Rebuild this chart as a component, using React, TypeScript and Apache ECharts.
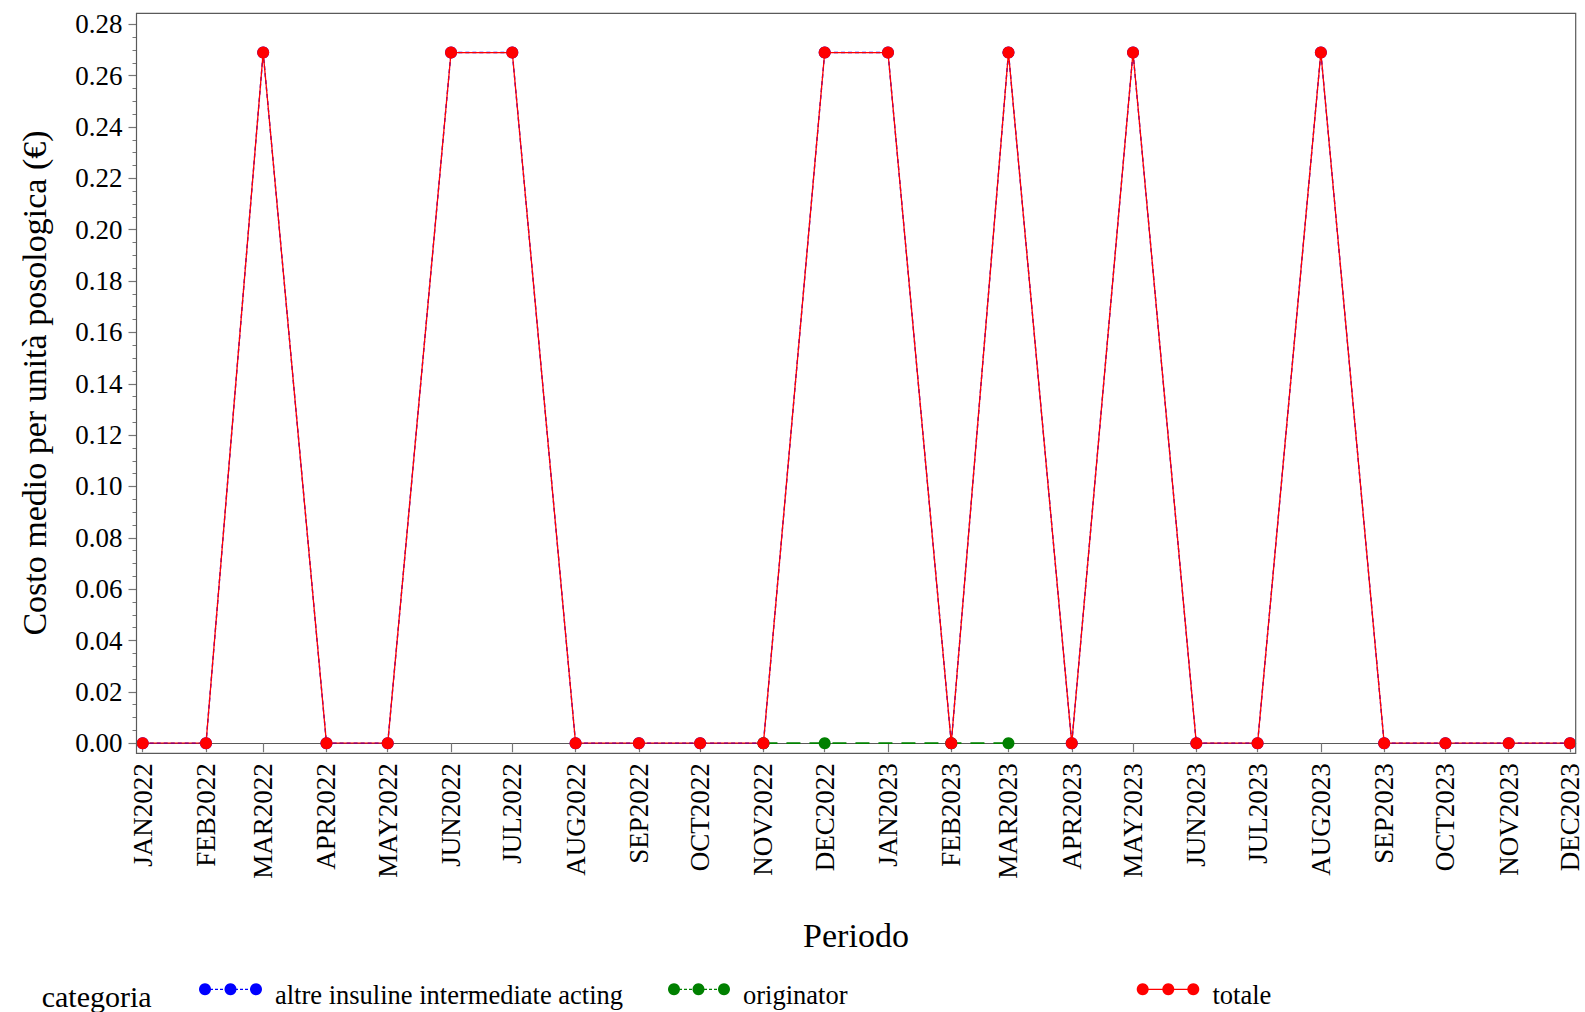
import React, { useEffect, useRef } from "react";
import * as echarts from "echarts";

const FONT = '"Liberation Serif", "Times New Roman", serif';
const DAY = 86400000;

// monthly periods (year, month index)
const periods: [number, number][] = [
  [2022, 0], [2022, 1], [2022, 2], [2022, 3], [2022, 4], [2022, 5],
  [2022, 6], [2022, 7], [2022, 8], [2022, 9], [2022, 10], [2022, 11],
  [2023, 0], [2023, 1], [2023, 2], [2023, 3], [2023, 4], [2023, 5],
  [2023, 6], [2023, 7], [2023, 8], [2023, 9], [2023, 10], [2023, 11],
];
const monthNames = ["JAN", "FEB", "MAR", "APR", "MAY", "JUN", "JUL", "AUG", "SEP", "OCT", "NOV", "DEC"];

const totale = [
  0, 0, 0.269, 0, 0, 0.269, 0.269, 0, 0, 0, 0, 0.269,
  0.269, 0, 0.269, 0, 0.269, 0, 0, 0.269, 0, 0, 0, 0,
];
const altreInsuline = [
  0, 0, 0.269, 0, 0, 0.269, 0.269, 0, 0, 0, 0, 0.269,
  0.269, 0, 0.269, 0, 0.269, 0, 0, 0.269, 0, 0, 0, 0,
];
const originatorPeriods: [number, number][] = [[2022, 10], [2022, 11], [2023, 1], [2023, 2]];
const originator = [0, 0, 0, 0];

const yTicks = { min: 0, max: 0.28, interval: 0.02 };

const ts = (p: [number, number]) => new Date(p[0], p[1], 1).getTime();

export default function App() {
  const ref = useRef<HTMLDivElement>(null);
  useEffect(() => {
    if (!ref.current) return;
    const chart = echarts.init(ref.current, undefined, { renderer: "svg" });

    const gridLeft = 136.5;
    const gridRight = 9.3;
    const gridTop = 24.3;
    const gridBottom = 268.8;
    const frame = { x: 136.5, y: 13.3, w: 1575.7 - 136.5, h: 753.3 - 13.3 };

    const legendItems = [
      { name: "altre insuline intermediate acting", color: "#0000FF", dash: [3, 2], dots: [205, 230.5, 256], tx: 275 },
      { name: "originator", color: "#008000", dash: [3, 2], dots: [674, 698.5, 724], tx: 743 },
      { name: "totale", color: "#FF0000", dash: null as any, dots: [1142.7, 1168.3, 1193.3], tx: 1212.5 },
    ];
    const legendY = 989.3;
    const graphics: any[] = [
      {
        type: "rect",
        shape: { x: frame.x, y: frame.y, width: frame.w, height: frame.h },
        style: { fill: "none", stroke: "#5a5a5a", lineWidth: 1.2 },
        silent: true,
        z: 10,
      },
      {
        type: "text",
        x: 34,
        y: 383,
        rotation: Math.PI / 2,
        style: {
          text: "Costo medio per unità posologica (€)",
          font: `34px ${FONT}`,
          fill: "#000",
          align: "center",
          verticalAlign: "middle",
        },
      },
      {
        type: "text",
        x: 856,
        y: 935,
        style: { text: "Periodo", font: `34px ${FONT}`, fill: "#000", align: "center", verticalAlign: "middle" },
      },
      {
        type: "text",
        x: 41.7,
        y: 996,
        style: { text: "categoria", font: `30px ${FONT}`, fill: "#000", align: "left", verticalAlign: "middle" },
      },
    ];
    legendItems.forEach((it) => {
      graphics.push({
        type: "line",
        shape: { x1: it.dots[0], y1: legendY, x2: it.dots[2], y2: legendY },
        style: { stroke: it.color, lineWidth: 1.2, lineDash: it.dash || undefined },
      });
      it.dots.forEach((dx) => {
        graphics.push({ type: "circle", shape: { cx: dx, cy: legendY, r: 6 }, style: { fill: it.color } });
      });
      graphics.push({
        type: "text",
        x: it.tx,
        y: 995,
        style: { text: it.name, font: `26.5px ${FONT}`, fill: "#000", align: "left", verticalAlign: "middle" },
      });
    });

    const t0 = ts(periods[0]);
    const t1 = ts(periods[periods.length - 1]);

    chart.setOption({
      animation: false,
      backgroundColor: "#fff",
      grid: { left: gridLeft, right: gridRight, top: gridTop, bottom: gridBottom, containLabel: false },
      xAxis: {
        type: "time",
        min: t0 - 3.04 * DAY,
        max: t1 + 2.8 * DAY,
        splitNumber: 24,
        minInterval: 28 * DAY,
        maxInterval: 31 * DAY,
        offset: 10.1,
        axisLine: { show: true, lineStyle: { color: "#5a5a5a", width: 1.2 } },
        axisTick: { show: true, length: 9, lineStyle: { color: "#777", width: 1.2 } },
        splitLine: { show: false },
        axisLabel: {
          rotate: 90,
          fontFamily: FONT,
          fontSize: 27,
          color: "#000",
          margin: 10,
          hideOverlap: false,
          showMinLabel: false,
          showMaxLabel: false,
          formatter: (v: number) => {
            const d = new Date(v);
            if (d.getDate() !== 1 || d.getHours() !== 0) return "";
            return monthNames[d.getMonth()] + d.getFullYear();
          },
        },
      },
      yAxis: {
        type: "value",
        min: yTicks.min,
        max: yTicks.max,
        interval: yTicks.interval,
        axisLine: { show: false },
        axisTick: { show: true, length: 8, lineStyle: { color: "#777", width: 1.2 } },
        minorTick: { show: true, splitNumber: 4, length: 4, lineStyle: { color: "#777", width: 1 } },
        splitLine: { show: false },
        axisLabel: {
          fontFamily: FONT,
          fontSize: 27,
          color: "#000",
          margin: 14,
          formatter: (v: number) => v.toFixed(2),
        },
      },
      series: [
        {
          name: "altre insuline intermediate acting",
          type: "line",
          data: periods.map((p, i) => [ts(p), altreInsuline[i]]),
          symbol: "circle",
          symbolSize: 12,
          itemStyle: { color: "#0000FF" },
          lineStyle: { color: "#0000FF", width: 1.4, type: [4, 3] },
          z: 2,
        },
        {
          name: "originator",
          type: "line",
          data: originatorPeriods.map((p, i) => [ts(p), originator[i]]),
          symbol: "circle",
          symbolSize: 12,
          itemStyle: { color: "#008000" },
          lineStyle: { color: "#008000", width: 1.8, type: [14, 9] },
          z: 3,
        },
        {
          name: "totale",
          type: "line",
          data: periods.map((p, i) => [ts(p), totale[i]]),
          symbol: "circle",
          symbolSize: 12,
          itemStyle: { color: "#FF0000" },
          lineStyle: { color: "#FF0000", width: 1.3 },
          z: 4,
        },
      ],
      graphic: graphics,
    });
    return () => chart.dispose();
  }, []);
  return <div ref={ref} style={{ width: 1585, height: 1012, position: "absolute", left: 0, top: 0 }} />;
}
